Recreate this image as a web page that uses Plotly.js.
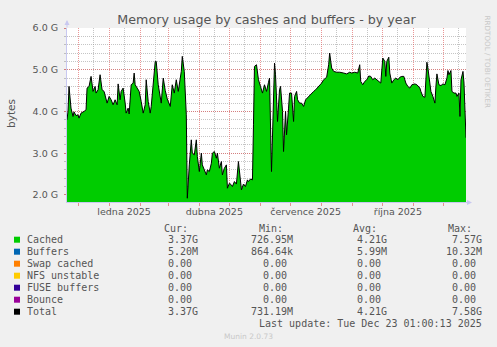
<!DOCTYPE html>
<html>
<head>
<meta charset="utf-8">
<script src="https://cdn.plot.ly/plotly-3.0.1.min.js"></script>
<style>html,body{margin:0;padding:0;background:#F0F0F0;}#chart{width:497px;height:347px;}</style>
</head>
<body>
<div id="chart"></div>
<script>
// ---- data (values in GiB) ----
const dates = [
"2024-11-20","2024-11-21","2024-11-22","2024-11-24","2024-11-26","2024-11-27","2024-11-29",
"2024-12-01","2024-12-02","2024-12-04","2024-12-07","2024-12-09","2024-12-10","2024-12-12","2024-12-14","2024-12-16","2024-12-18","2024-12-19","2024-12-21","2024-12-23","2024-12-25","2024-12-27","2024-12-30",
"2025-01-01","2025-01-03","2025-01-05","2025-01-07","2025-01-09","2025-01-10","2025-01-12","2025-01-13","2025-01-15","2025-01-17","2025-01-18","2025-01-20","2025-01-21","2025-01-23","2025-01-25","2025-01-26","2025-01-27","2025-01-29","2025-01-31",
"2025-02-02","2025-02-04","2025-02-06","2025-02-07","2025-02-09","2025-02-11","2025-02-12","2025-02-14","2025-02-16","2025-02-17","2025-02-19","2025-02-22","2025-02-24","2025-02-26","2025-02-28",
"2025-03-03","2025-03-05","2025-03-07","2025-03-09","2025-03-11","2025-03-12","2025-03-14","2025-03-15","2025-03-17","2025-03-19","2025-03-20","2025-03-22","2025-03-24","2025-03-25","2025-03-27","2025-03-29","2025-03-30",
"2025-04-01","2025-04-03","2025-04-04","2025-04-06","2025-04-08","2025-04-09","2025-04-11","2025-04-13","2025-04-14","2025-04-16","2025-04-18","2025-04-19","2025-04-21","2025-04-23","2025-04-24","2025-04-26","2025-04-28","2025-04-29",
"2025-05-01","2025-05-03","2025-05-04","2025-05-06","2025-05-08","2025-05-10","2025-05-11","2025-05-13","2025-05-15","2025-05-17","2025-05-19","2025-05-20","2025-05-22","2025-05-24","2025-05-25","2025-05-26","2025-05-28","2025-05-30",
"2025-06-01","2025-06-03","2025-06-05","2025-06-07","2025-06-09","2025-06-10","2025-06-12","2025-06-14","2025-06-15","2025-06-16","2025-06-18","2025-06-20","2025-06-21","2025-06-23","2025-06-24","2025-06-26","2025-06-27","2025-06-29","2025-06-30",
"2025-07-02","2025-07-04","2025-07-05","2025-07-07","2025-07-08","2025-07-10","2025-07-12","2025-07-14","2025-07-16","2025-07-19","2025-07-21","2025-07-24","2025-07-26","2025-07-29",
"2025-08-01","2025-08-03","2025-08-06","2025-08-08","2025-08-09","2025-08-11","2025-08-13","2025-08-16","2025-08-19","2025-08-23","2025-08-26","2025-08-29","2025-08-31",
"2025-09-03","2025-09-06","2025-09-08","2025-09-09","2025-09-11","2025-09-13","2025-09-15","2025-09-17","2025-09-19","2025-09-21","2025-09-23","2025-09-25","2025-09-28","2025-09-29",
"2025-10-01","2025-10-03","2025-10-04","2025-10-05","2025-10-07","2025-10-08","2025-10-10","2025-10-12","2025-10-14","2025-10-16","2025-10-18","2025-10-20","2025-10-22","2025-10-24","2025-10-26","2025-10-28","2025-10-30",
"2025-11-02","2025-11-04","2025-11-07","2025-11-08","2025-11-10","2025-11-12","2025-11-14","2025-11-15","2025-11-17","2025-11-18","2025-11-20","2025-11-22","2025-11-23","2025-11-24","2025-11-26","2025-11-28","2025-11-30",
"2025-12-02","2025-12-04","2025-12-05","2025-12-06","2025-12-08","2025-12-09","2025-12-11","2025-12-13","2025-12-14","2025-12-16","2025-12-17","2025-12-18","2025-12-20","2025-12-21","2025-12-22","2025-12-23"
];
const cachedG = [
3.80,4.00,4.60,4.08,3.88,3.99,3.90,
3.92,3.84,3.96,4.00,4.04,4.56,4.60,4.84,4.48,4.60,4.44,4.52,4.88,4.52,4.48,4.20,
4.36,4.28,4.16,4.28,4.16,4.66,4.28,4.48,4.56,4.20,3.96,4.08,3.94,4.64,4.68,4.92,4.64,4.56,4.48,
4.24,3.96,4.16,4.76,4.24,3.96,4.12,4.64,5.20,5.20,4.64,4.20,4.80,4.50,4.30,
4.12,4.64,4.44,4.76,4.48,4.68,4.96,5.32,4.96,3.92,1.92,2.72,3.32,3.00,2.96,3.32,2.92,
2.56,3.00,2.72,2.60,2.48,2.60,2.56,2.76,3.00,3.04,2.88,3.00,2.64,2.80,2.48,2.64,2.72,2.16,
2.28,2.24,2.20,2.32,2.26,2.80,2.56,2.12,2.26,2.20,2.36,2.32,2.38,2.36,3.68,5.08,5.12,4.76,
4.60,4.44,4.64,4.48,4.70,4.80,2.56,4.00,5.16,4.88,3.76,4.52,4.60,4.00,3.04,4.00,3.44,4.08,4.44,
4.44,3.76,4.36,4.48,4.28,4.20,4.20,4.12,4.28,4.36,4.42,4.48,4.52,4.60,
4.68,4.76,4.82,5.12,5.40,5.04,4.96,4.94,4.94,4.92,4.90,4.94,4.92,
4.94,4.92,5.12,4.72,4.64,4.72,4.76,4.85,4.84,4.76,4.80,4.76,4.72,4.68,
5.28,5.20,4.84,5.20,5.30,4.92,4.68,4.76,4.80,4.76,4.82,4.84,4.84,4.68,4.60,4.56,4.64,
4.66,4.64,4.56,4.48,4.36,4.34,5.18,5.04,4.68,4.48,4.36,4.20,4.60,4.90,4.64,4.62,4.66,
4.64,4.80,4.98,4.88,4.98,4.48,4.44,4.44,4.36,4.44,3.88,4.76,4.96,4.68,3.76,3.37
];
const yTickVals = [2, 3, 4, 5, 6];
const yTickText = ["2.0 G", "3.0 G", "4.0 G", "5.0 G", "6.0 G"];
const monthStarts = ["2024-12-01","2025-01-01","2025-02-01","2025-03-01","2025-04-01","2025-05-01","2025-06-01","2025-07-01","2025-08-01","2025-09-01","2025-10-01","2025-11-01","2025-12-01"];
const midMonths = ["2024-11-16","2024-12-16","2025-01-16","2025-02-16","2025-03-16","2025-04-16","2025-05-16","2025-06-16","2025-07-16","2025-08-16","2025-09-16","2025-10-16","2025-11-16","2025-12-16"];
const xLabelVals = ["2025-01-16","2025-04-16","2025-07-16","2025-10-16"];
const xLabelText = ["ledna 2025","dubna 2025","července 2025","října 2025"];

const legendNames = ["Cached","Buffers","Swap cached","NFS unstable","FUSE buffers","Bounce","Total"];
const legendColors = ["#00CC00","#0066B3","#FF8000","#FFCC00","#330099","#990099","#000000"];
const curVals = ["3.37G","5.20M","0.00","0.00","0.00","0.00","3.37G"];
const minVals = ["726.95M","864.64k","0.00","0.00","0.00","0.00","731.19M"];
const avgVals = ["4.21G","5.99M","0.00","0.00","0.00","0.00","4.21G"];
const maxVals = ["7.57G","10.32M","0.00","0.00","0.00","0.00","7.58G"];
const headers = ["Cur:","Min:","Avg:","Max:"];
const lastUpdate = "Last update: Tue Dec 23 01:00:13 2025";

// ---- layout helpers (pixel -> paper) ----
const L = 67, T = 28, W = 399, H = 174;
const xp = px => (px - L) / W;
const yp = py => (T + H - py) / H;

const textCol = "#555555";
const mono = "DejaVu Sans Mono";
const sans = "DejaVu Sans";
const majGrid = "rgba(222,80,80,0.6)";
const minGrid = "rgba(150,150,150,0.55)";

const annotations = [];
const shapes = [];

// y axis title
annotations.push({xref:"paper", yref:"paper", x:xp(11), y:yp(114), text:"bytes", showarrow:false,
  textangle:-90, font:{family:sans, size:10.5, color:textCol}, xanchor:"center", yanchor:"middle"});
// rrdtool credit
annotations.push({xref:"paper", yref:"paper", x:xp(487.5), y:yp(62), text:"RRDTOOL / TOBI OETIKER", showarrow:false,
  textangle:90, font:{family:sans, size:7.2, color:"#C8C8C8"}, xanchor:"center", yanchor:"middle"});

// axis arrows
annotations.push({xref:"paper", yref:"paper", x:xp(472), y:yp(202.5), ax:-8, ay:0, axref:"pixel", ayref:"pixel",
  text:"", showarrow:true, arrowhead:2, arrowsize:1, arrowwidth:1, arrowcolor:"#C8C8F0"});
annotations.push({xref:"paper", yref:"paper", x:xp(67), y:yp(20), ax:0, ay:9,
  text:"", showarrow:true, arrowhead:2, arrowsize:1, arrowwidth:1, arrowcolor:"#C8C8F0"});

// legend table
const rowY0 = 239.7, rowH = 12;
const colRights = [199, 294, 388, 483];
const headLefts = [163.3, 257.7, 352.3, 446.7];
const charW = 6.0;
headers.forEach((h, i) => {
  annotations.push({xref:"paper", yref:"paper", x:xp(headLefts[i]), y:yp(228), text:h, showarrow:false,
    xanchor:"left", yanchor:"middle", borderpad:0, font:{family:mono, size:10, color:textCol}});
});
const cols = [curVals, minVals, avgVals, maxVals];
legendNames.forEach((name, r) => {
  const cy = rowY0 + r * rowH;
  shapes.push({type:"rect", xref:"paper", yref:"paper", x0:xp(14), x1:xp(20), y0:yp(cy + 3), y1:yp(cy - 3),
    fillcolor:legendColors[r], line:{width:0}});
  annotations.push({xref:"paper", yref:"paper", x:xp(26), y:yp(cy), text:name, showarrow:false,
    xanchor:"left", yanchor:"middle", borderpad:0, font:{family:mono, size:10, color:textCol}});
  cols.forEach((arr, c) => {
    const v = arr[r];
    const hasUnit = /[A-Za-z]$/.test(v);
    const right = colRights[c] - (hasUnit ? 0 : charW);
    annotations.push({xref:"paper", yref:"paper", x:xp(right), y:yp(cy), text:v, showarrow:false,
      xanchor:"right", yanchor:"middle", borderpad:0, font:{family:mono, size:10, color:textCol}});
  });
});
annotations.push({xref:"paper", yref:"paper", x:xp(483), y:yp(323.7), text:lastUpdate, showarrow:false,
  xanchor:"right", yanchor:"middle", borderpad:0, font:{family:mono, size:10, color:textCol}});
annotations.push({xref:"paper", yref:"paper", x:xp(248), y:yp(336), text:"Munin 2.0.73", showarrow:false,
  xanchor:"center", yanchor:"middle", borderpad:0, font:{family:sans, size:7.5, color:"#C8C8C8"}});

const traces = [
  {x:dates, y:cachedG, type:"scatter", mode:"lines", fill:"tozeroy", fillcolor:"#00CC00",
   line:{color:"#000000", width:1}, hoverinfo:"skip", xaxis:"x", yaxis:"y"}
];

const layout = {
  width:497, height:347,
  margin:{l:L, r:497 - L - W, t:T, b:347 - T - H, pad:0},
  paper_bgcolor:"#F0F0F0", plot_bgcolor:"#FFFFFF",
  showlegend:false,
  title:{text:"Memory usage by cashes and buffers - by year", font:{family:sans, size:12.7, color:textCol},
    x:0.5, xanchor:"center", xref:"paper", y:1 - 20/347, yanchor:"middle"},
  xaxis:{type:"date", range:["2024-11-20","2025-12-23"], tickmode:"array", tickvals:monthStarts,
    showticklabels:false, ticks:"outside", ticklen:3, tickcolor:majGrid, tickwidth:1,
    showgrid:true, gridcolor:majGrid, griddash:"1px,1px", gridwidth:1, zeroline:false,
    showline:true, linecolor:"#C8C8F0", linewidth:1,
    minor:{tickmode:"array", tickvals:midMonths, showgrid:true, gridcolor:minGrid, griddash:"1px,1px", gridwidth:1, ticks:""}},
  xaxis2:{type:"date", overlaying:"x", matches:"x", range:["2024-11-20","2025-12-23"], tickmode:"array", tickvals:xLabelVals,
    ticktext:xLabelText, showgrid:false, zeroline:false, ticks:"", side:"bottom", anchor:"y",
    tickfont:{family:sans, size:9.5, color:textCol}, ticklabelstandoff:2},
  yaxis:{range:[1.83, 6.0], tickmode:"array", tickvals:yTickVals, ticktext:yTickText,
    tickfont:{family:sans, size:9.5, color:textCol}, ticks:"outside", ticklen:2, tickcolor:majGrid,
    showgrid:true, gridcolor:majGrid, griddash:"1px,1px", gridwidth:1, zeroline:false,
    showline:true, linecolor:"#C8C8F0", linewidth:1, ticklabelstandoff:4,
    minor:{dtick:0.2, tick0:0, showgrid:true, gridcolor:minGrid, griddash:"1px,1px", gridwidth:1, ticks:"outside", ticklen:2, tickcolor:minGrid}},
  annotations:annotations,
  shapes:shapes
};

// dummy invisible trace for xaxis2 labels
traces.push({x:[dates[0]], y:[cachedG[0]], type:"scatter", mode:"markers", marker:{opacity:0}, hoverinfo:"skip", xaxis:"x2", yaxis:"y"});

Plotly.newPlot("chart", traces, layout, {staticPlot:true, displayModeBar:false});
</script>
</body>
</html>
